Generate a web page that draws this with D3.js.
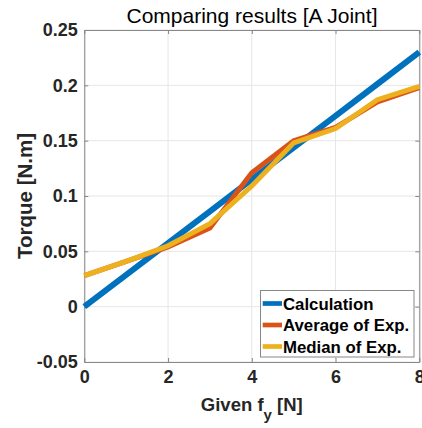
<!DOCTYPE html>
<html><head><meta charset="utf-8">
<script src="https://cdn.jsdelivr.net/npm/d3@7"></script>
<style>body{margin:0;background:#fff}svg{display:block}text{font-family:"Liberation Sans",Arial,sans-serif}</style>
</head><body><svg id="c" width="422" height="428"></svg>
<script>
const xs = [0,1,2,3,4,5,6,7,8];
const calculation = [0,0.0287,0.0575,0.0862,0.115,0.1437,0.1725,0.2012,0.23];
const averageExp = [0.028,0.041,0.054,0.071,0.121,0.15,0.162,0.185,0.198];
const medianExp = [0.028,0.041,0.055,0.075,0.109,0.148,0.161,0.187,0.199];
const xTicks = [0,2,4,6,8];
const yTicks = [-0.05,0,0.05,0.1,0.15,0.2,0.25];
const seriesNames = ["Calculation","Average of Exp.","Median of Exp."];
const colors = ["#0072BD","#D95319","#EDB120"];
const widths = [6,5,5];

const svg = d3.select("#c");
const L=84.3,R=419.3,T=30,B=362;
const x = d3.scaleLinear().domain([0,8]).range([L,R]);
const y = d3.scaleLinear().domain([-0.05,0.25]).range([B,T]);
const fmt = v => (Math.abs(v)<1e-9?"0":String(+v.toFixed(2)));

// grid
const g = svg.append("g");
g.selectAll(".gx").data(xTicks).enter().append("line")
 .attr("x1",d=>x(d)).attr("x2",d=>x(d)).attr("y1",T).attr("y2",B)
 .attr("stroke","#e6e6e6").attr("stroke-width",1);
g.selectAll(".gy").data(yTicks).enter().append("line")
 .attr("y1",d=>y(d)).attr("y2",d=>y(d)).attr("x1",L).attr("x2",R)
 .attr("stroke","#e6e6e6").attr("stroke-width",1);

// axes
const xAxis = d3.axisBottom(x).tickValues(xTicks).tickFormat(fmt).tickSizeInner(-4).tickSizeOuter(0).tickPadding(8);
const yAxis = d3.axisLeft(y).tickValues(yTicks).tickFormat(fmt).tickSizeInner(-4).tickSizeOuter(0).tickPadding(6.5);
const ax = svg.append("g").attr("transform",`translate(0,${B})`).call(xAxis);
const ay = svg.append("g").attr("transform",`translate(${L},0)`).call(yAxis);
const ax2 = svg.append("g").attr("transform",`translate(0,${T})`).call(d3.axisTop(x).tickValues(xTicks).tickFormat("").tickSizeInner(-4).tickSizeOuter(0));
const ay2 = svg.append("g").attr("transform",`translate(${R},0)`).call(d3.axisRight(y).tickValues(yTicks).tickFormat("").tickSizeInner(-4).tickSizeOuter(0));
[ax,ay,ax2,ay2].forEach(a=>{
  a.select(".domain").attr("stroke","#878787");
  a.selectAll(".tick line").attr("stroke","#878787");
  a.selectAll(".tick text").attr("fill","#262626").style("font-size","18px").style("font-weight","bold");
});

// lines
const series=[calculation,averageExp,medianExp];
const line = d3.line().x((d,i)=>x(xs[i])).y(d=>y(d));
series.forEach((s,i)=>{
  svg.append("path").datum(s).attr("d",line).attr("fill","none")
   .attr("stroke",colors[i]).attr("stroke-width",widths[i]).attr("stroke-linejoin","miter");
});

// title
svg.append("text").attr("x",252).attr("y",22.5).attr("text-anchor","middle")
 .attr("fill","#000").style("font-size","21px").text("Comparing results [A Joint]");
// y label
svg.append("text").attr("transform",`translate(32,${(T+B)/2}) rotate(-90)`).attr("text-anchor","middle")
 .attr("fill","#262626").style("font-size","20.5px").style("font-weight","bold").text("Torque [N.m]");
// x label
const xl = svg.append("text").attr("x",(L+R)/2).attr("y",410.5).attr("text-anchor","middle")
 .attr("fill","#262626").style("font-size","18.5px").style("font-weight","bold");
xl.append("tspan").text("Given f");
xl.append("tspan").attr("dy",9).style("font-size","15px").text("y");
xl.append("tspan").attr("dy",-9).text(" [N]");

// legend
const lg = svg.append("g");
lg.append("rect").attr("x",260.5).attr("y",290.5).attr("width",153.5).attr("height",66.5)
 .attr("fill","#fff").attr("stroke","#878787");
seriesNames.forEach((n,i)=>{
  const cy = 303.5+i*21.5;
  lg.append("line").attr("x1",262.7).attr("x2",282).attr("y1",cy).attr("y2",cy)
   .attr("stroke",colors[i]).attr("stroke-width",4.7);
  lg.append("text").attr("x",283).attr("y",cy+6).attr("fill","#000")
   .style("font-size","16.8px").style("font-weight","bold").text(n);
});
</script></body></html>
